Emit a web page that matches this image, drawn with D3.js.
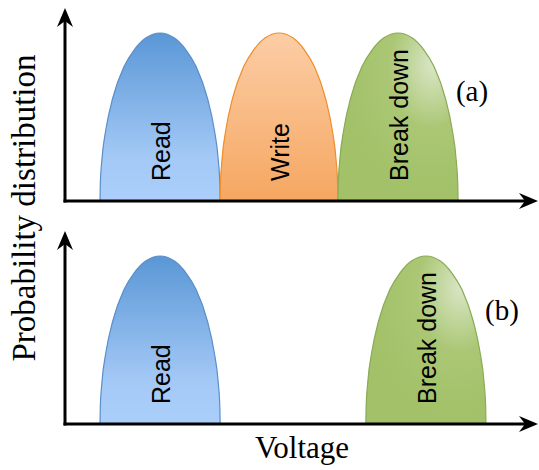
<!DOCTYPE html>
<html>
<head>
<meta charset="utf-8">
<script src="https://cdn.jsdelivr.net/npm/d3@7"></script>
<style>
  html, body { margin: 0; padding: 0; background: #fff; }
  svg { display: block; }
</style>
</head>
<body>
<svg id="chart" width="539" height="470"></svg>
<script>
// ---------------- data ----------------
const panelLabels = ["(a)", "(b)"];
const categories = ["Read", "Write", "Break down"];
// distribution extents on the voltage axis (0..100 units), per panel
const panelA_start = [7.4, 32.8, 57.7];
const panelA_end   = [32.8, 57.7, 83.1];
const panelB_cats  = ["Read", "Break down"];
const panelB_start = [7.4, 63.6];
const panelB_end   = [32.8, 89.0];
const peakValue = 1.0;
// normalised bell profile (offset from centre, relative height)
const profileU = [-1, -0.995, -0.97, -0.9, -0.79, -0.6, -0.43, -0.24, 0, 0.24, 0.43, 0.6, 0.79, 0.9, 0.97, 0.995, 1];
const profileH = [0, 0.1, 0.24, 0.43, 0.61, 0.8, 0.9, 0.97, 1, 0.97, 0.9, 0.8, 0.61, 0.43, 0.24, 0.1, 0];

// ---------------- layout ----------------
const svg = d3.select("#chart");
const W = 539, H = 470;
svg.append("rect").attr("width", W).attr("height", H).attr("fill", "#fff");

const x = d3.scaleLinear().domain([0, 100]).range([65, 538]);
const panels = [
  { label: panelLabels[0], cats: categories, start: panelA_start, end: panelA_end, base: 201, peak: 33, top: 8, labelPos: [472, 101] },
  { label: panelLabels[1], cats: panelB_cats, start: panelB_start, end: panelB_end, base: 424, peak: 256, top: 231, labelPos: [502, 320] }
];

// ---------------- gradients ----------------
const defs = svg.append("defs");
const gRead = defs.append("linearGradient").attr("id", "gRead").attr("x1", 0).attr("y1", 0).attr("x2", 0).attr("y2", 1);
gRead.append("stop").attr("offset", "0%").attr("stop-color", "#5a97d6");
gRead.append("stop").attr("offset", "75%").attr("stop-color", "#a4c9f6");
gRead.append("stop").attr("offset", "100%").attr("stop-color", "#abcffa");

const gWrite = defs.append("linearGradient").attr("id", "gWrite").attr("x1", 0).attr("y1", 0).attr("x2", 0).attr("y2", 1);
gWrite.append("stop").attr("offset", "0%").attr("stop-color", "#fccda6");
gWrite.append("stop").attr("offset", "100%").attr("stop-color", "#f5a761");

const gBreak = defs.append("radialGradient").attr("id", "gBreak")
  .attr("cx", "75%").attr("cy", "25%").attr("r", "70%").attr("fx", "80%").attr("fy", "18%");
gBreak.append("stop").attr("offset", "0%").attr("stop-color", "#dae7c8");
gBreak.append("stop").attr("offset", "50%").attr("stop-color", "#abc775");
gBreak.append("stop").attr("offset", "100%").attr("stop-color", "#a2c168");

const styleOf = {
  "Read": { fill: "url(#gRead)", stroke: "#5b8fca" },
  "Write": { fill: "url(#gWrite)", stroke: "#ee8e2c" },
  "Break down": { fill: "url(#gBreak)", stroke: "#8aab55" }
};

const arrowUp = (cx, ty) => `M${cx},${ty} L${cx - 8},${ty + 19} L${cx},${ty + 13} L${cx + 8},${ty + 19} Z`;
const arrowRight = (tx, cy) => `M${tx},${cy} L${tx - 19},${cy - 8} L${tx - 13},${cy} L${tx - 19},${cy + 8} Z`;

panels.forEach(p => {
  const y = d3.scaleLinear().domain([0, peakValue]).range([p.base, p.peak]);
  const g = svg.append("g");

  // distributions
  p.cats.forEach((c, i) => {
    const c0 = (p.start[i] + p.end[i]) / 2;
    const hw = (p.end[i] - p.start[i]) / 2;
    const pts = profileU.map((u, k) => [x(c0 + u * hw), y(profileH[k] * peakValue)]);
    const line = d3.line().curve(d3.curveMonotoneX);
    g.append("path")
      .attr("d", line(pts) + "Z")
      .attr("fill", styleOf[c].fill)
      .attr("stroke", styleOf[c].stroke)
      .attr("stroke-width", 1.2);
    g.append("text")
      .attr("transform", `translate(${x(c0) + 10},${p.base - 20}) rotate(-90)`)
      .attr("font-family", "Liberation Sans, Arial, sans-serif")
      .attr("font-size", 25)
      .attr("fill", "#000")
      .text(c);
  });

  // axes
  const [x0, x1] = x.range();
  g.append("line").attr("x1", x0).attr("x2", x0).attr("y1", p.base + 1.5).attr("y2", p.top + 10)
    .attr("stroke", "#000").attr("stroke-width", 3);
  g.append("path").attr("d", arrowUp(x0, p.top)).attr("fill", "#000");
  g.append("line").attr("x1", x0 - 1.5).attr("x2", x1 - 10).attr("y1", p.base).attr("y2", p.base)
    .attr("stroke", "#000").attr("stroke-width", 3);
  g.append("path").attr("d", arrowRight(x1, p.base)).attr("fill", "#000");

  // panel label
  g.append("text")
    .attr("x", p.labelPos[0]).attr("y", p.labelPos[1])
    .attr("text-anchor", "middle")
    .attr("font-family", "Liberation Serif, Times New Roman, serif")
    .attr("font-size", 29)
    .attr("fill", "#000")
    .text(p.label);
});

// axis titles
svg.append("text")
  .attr("transform", `translate(35,208) rotate(-90)`)
  .attr("text-anchor", "middle")
  .attr("font-family", "Liberation Serif, Times New Roman, serif")
  .attr("font-size", 33)
  .attr("fill", "#000")
  .text("Probability distribution");

svg.append("text")
  .attr("x", 302).attr("y", 458)
  .attr("text-anchor", "middle")
  .attr("font-family", "Liberation Serif, Times New Roman, serif")
  .attr("font-size", 31)
  .attr("fill", "#000")
  .text("Voltage");
</script>
</body>
</html>
